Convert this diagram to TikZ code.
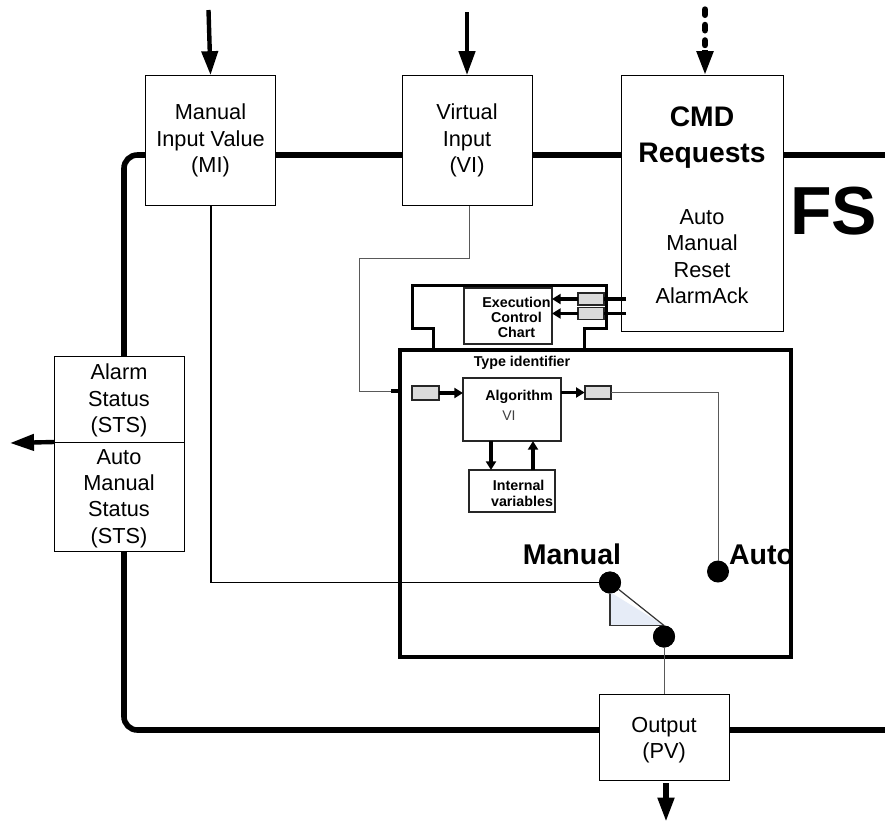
\documentclass[tikz,border=0pt]{standalone}
\usepackage{fontspec}
\setmainfont{Liberation Sans}
\usetikzlibrary{arrows.meta}
\definecolor{swfill}{HTML}{E6ECF7}
\tikzset{
  px/.style={x=0.75pt,y=-0.75pt},
  lbl/.style={align=center,inner sep=0pt,font=\fontsize{16.3}{19.8}\selectfont},
  small/.style={align=center,inner sep=0pt,font=\bfseries\fontsize{10.7}{11.5}\selectfont},
  whitebox/.style={draw=black,fill=white,line width=0.75pt,inner sep=0pt,outer sep=0pt,align=center},
  bus/.style={line width=4.2pt,black},
  thick box/.style={draw=black,line width=2.25pt},
  greybox/.style={draw=black!85,fill=black!14,line width=1.4pt,inner sep=0pt,outer sep=0pt},
  midbox/.style={draw=black!85,fill=white,line width=1.4pt,inner sep=0pt,outer sep=0pt,align=center},
  wire/.style={line width=0.75pt,draw=black!65},
  bigarrow/.style={line width=3.3pt,-{Triangle[length=18pt,width=12pt]}},
  smallarrow/.style={line width=2.7pt,-{Triangle[length=6.5pt,width=7.5pt]}},
  dot/.style={circle,fill=black,inner sep=0pt,outer sep=0pt,minimum size=16.5pt},
}
\begin{document}
\begin{tikzpicture}[px]
\useasboundingbox (0,0) rectangle (885,822);
% main bus behind the boxes
\coordinate (busTR) at (885,155);
\coordinate (busBR) at (885,730);
\draw[bus,rounded corners=10pt] (busTR) -- (124,155) -- (124,730) -- (busBR);
% boxes
\node[whitebox,minimum width=97pt,minimum height=98pt] (mi) at (210.5,140.5) {};
\node[lbl] at (210.5,140.5) {Manual\\Input Value\\(MI)};
\node[whitebox,minimum width=97.5pt,minimum height=98pt] (vi) at (467,140.5) {};
\node[lbl] at (467,140.5) {Virtual\\Input\\(VI)};
\node[whitebox,minimum width=121.5pt,minimum height=192pt] (cmd) at (702,203) {};
\node[lbl,font=\bfseries\fontsize{21.2}{27}\selectfont] at (702,138) {CMD\\Requests};
\node[lbl] at (702,256.5) {Auto\\Manual\\Reset\\AlarmAck};
\node[whitebox,minimum width=97.5pt,minimum height=64.5pt] (alarm) at (119,399) {};
\node[lbl] at (119,400.5) {Alarm\\Status\\(STS)};
\node[whitebox,minimum width=97.5pt,minimum height=81.75pt] (am) at (119,496.5) {};
\node[lbl] at (119,498.5) {Auto\\Manual\\Status\\(STS)};
\node[whitebox,minimum width=97.5pt,minimum height=65pt] (out) at (664,737.5) {};
\node[lbl] at (664,740) {Output\\(PV)};
\node[font=\bfseries\fontsize{51}{51}\selectfont,inner sep=0pt] (fs) at (833.5,211) {FS};
% execution control chart outline
\draw[thick box,line join=miter] (433,350) -- (433,328) -- (412,328) -- (412,285) -- (606,285) -- (606,328) -- (584,328) -- (584,350);
% FB body
\node[draw=black,fill=white,line width=2.6pt,inner sep=0pt,outer sep=0pt,minimum width=293.25pt,minimum height=230.25pt] (fb) at (595.5,503.5) {};
\node[small] (ti) at (522,363) {Type identifier};
% inner boxes
\node[midbox,minimum width=66pt,minimum height=42pt] (ecc) at (508,316) {};
\node[small] at (516.5,317.5) {Execution\\Control\\Chart};
\node[midbox,minimum width=73.5pt,minimum height=47.25pt] (alg) at (512,409.5) {};
\node[small] at (519,397) {Algorithm};
\node[inner sep=0pt,font=\fontsize{10.5}{12}\selectfont,text=black!75] at (509,416) {VI};
\node[midbox,line width=1.5pt,minimum width=64.5pt,minimum height=31.5pt] (iv) at (512,491) {};
\node[small] at (522,493.5) {\hspace*{-5pt}Internal\\variables};
% event/data connectors
\node[greybox,minimum width=19.5pt,minimum height=9pt] (ev1) at (591,299) {};
\node[greybox,minimum width=19.5pt,minimum height=9pt] (ev2) at (591,313.5) {};
\node[greybox,minimum width=20pt,minimum height=10pt] (din) at (425.5,393) {};
\node[greybox,minimum width=20pt,minimum height=9.5pt] (dout) at (598,392.5) {};
\coordinate (c1) at (626,299);
\coordinate (c2) at (626,313.5);
\draw[line width=2.6pt] (c1) -- (ev1.east);
\draw[line width=2.6pt] (c2) -- (ev2.east);
\draw[smallarrow] (ev1.west) -- (ecc.east |- ev1.west);
\draw[smallarrow] (ev2.west) -- (ecc.east |- ev2.west);
\draw[smallarrow] (din.east) -- (alg.west |- din.east);
\draw[smallarrow] (alg.east |- dout.west) -- (dout.west);
\draw[smallarrow] (alg.south -| 491,0) -- (iv.north -| 491,0);
\draw[smallarrow] (iv.north -| 533,0) -- (alg.south -| 533,0);
% dots
\node[dot] (dman) at (610,582.5) {};
\node[dot] (dauto) at (718,571.5) {};
\node[dot] (dsw) at (664,636.5) {};
\node[inner sep=0pt,font=\bfseries\fontsize{21.4}{24}\selectfont] at (572,554.5) {Manual};
\node[inner sep=0pt,font=\bfseries\fontsize{21.4}{24}\selectfont] at (761.5,554.5) {Auto};
% switch triangle
\fill[swfill] (610,592) -- (610,625.5) -- (664,625.5) -- cycle;
\draw[line width=0.9pt,draw=black!80] (dman) -- (610,625.5) -- (dsw.north);
\draw[line width=0.9pt,draw=black!80] (dman) -- (dsw.north);
\node[dot] at (dman) {};
\node[dot] at (dsw) {};
% wires
\draw[line width=0.85pt] (mi.south -| 211,0) -- (211,582.5) -- (dman);
\coordinate (stub) at (391,391);
\draw[wire] (vi.south -| 469,0) -- (469,258) -- (359,258) -- (359,391) -- (stub);
\draw[line width=2.6pt] (stub) -- (fb.west |- stub);
\draw[wire] (dout.east) -- (718,392.5) -- (dauto);
\draw[wire] (dsw) -- (out.north -| dsw);
% big arrows
\coordinate (a1) at (208.5,10);
\coordinate (a2) at (467,12);
\coordinate (a3) at (705,50);
\coordinate (a4) at (666,783);
\draw[bigarrow] (a1) -- (mi.north);
\draw[bigarrow] (a2) -- (vi.north);
\draw[line width=4.8pt,line cap=round,dash pattern=on 4pt off 7.6pt] (705,9.5) -- (705,45);
\draw[bigarrow,line width=4pt] (a3) -- (cmd.north -| a3);
\draw[bigarrow] (alarm.south west) -- (10,443);
\draw[bigarrow,line width=3.8pt] (a4) -- (666,821.5);
\end{tikzpicture}
\end{document}
